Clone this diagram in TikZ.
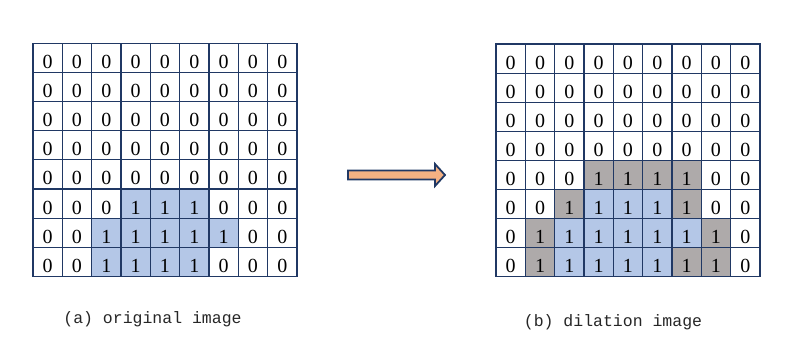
\documentclass[tikz,border=0pt]{standalone}
\usepackage{fontspec}
\setmainfont{Liberation Serif}
\newfontfamily\labelfont{Liberation Mono}
\definecolor{gridline}{HTML}{203864}
\definecolor{cellblue}{HTML}{B4C7E7}
\definecolor{cellgray}{HTML}{AEAAAA}
\definecolor{arrowfill}{HTML}{F4B183}
\begin{document}
\begin{tikzpicture}[x=1pt,y=-1pt,
  cell/.style={draw=gridline, line width=1.1pt, minimum width=29.33pt, minimum height=29.1pt,
    inner sep=0pt, font=\fontsize{20}{20}\selectfont, text height=21pt, text depth=0pt},
  cell-0/.style={fill=white, node contents=0},
  cell-b/.style={fill=cellblue, node contents=1},
  cell-g/.style={fill=cellgray, node contents=1},
  caption/.style={font=\labelfont\fontsize{16.5}{16.5}\selectfont, text=black!85, inner sep=0pt},
  bigarrow/.style={draw=gridline, line width=1.8pt, fill=arrowfill, line join=miter}]
\useasboundingbox (0,0) rectangle (802,340);
% left grid: original image
\foreach \row [count=\r from 0] in {
  {0,0,0,0,0,0,0,0,0},{0,0,0,0,0,0,0,0,0},{0,0,0,0,0,0,0,0,0},{0,0,0,0,0,0,0,0,0},
  {0,0,0,0,0,0,0,0,0},{0,0,0,b,b,b,0,0,0},{0,0,b,b,b,b,b,0,0},{0,0,b,b,b,b,0,0,0}}{
  \foreach \v [count=\c from 0] in \row {
    \node (L-\r-\c) at ({33+29.33*\c+14.665},{43.5+29.1*\r+14.55}) [cell, cell-\v];
  }
}
% right grid: dilation image
\foreach \row [count=\r from 0] in {
  {0,0,0,0,0,0,0,0,0},{0,0,0,0,0,0,0,0,0},{0,0,0,0,0,0,0,0,0},{0,0,0,0,0,0,0,0,0},
  {0,0,0,g,g,g,g,0,0},{0,0,g,b,b,b,g,0,0},{0,g,b,b,b,b,b,g,0},{0,g,b,b,b,b,g,g,0}}{
  \foreach \v [count=\c from 0] in \row {
    \node (R-\r-\c) at ({496+29.33*\c+14.665},{44+29.08*\r+14.54}) [cell, cell-\v];
  }
}
% arrow
\draw[bigarrow] (348,170.5) -- (435,170.5) -- (435,164) -- (445,175) -- (435,186)
  -- (435,179.5) -- (348,179.5) -- cycle;
% captions
\node[caption] (capa) at (152.5,319) {(a) original image};
\node[caption] (capb) at (613,322) {(b) dilation image};
\end{tikzpicture}
\end{document}
